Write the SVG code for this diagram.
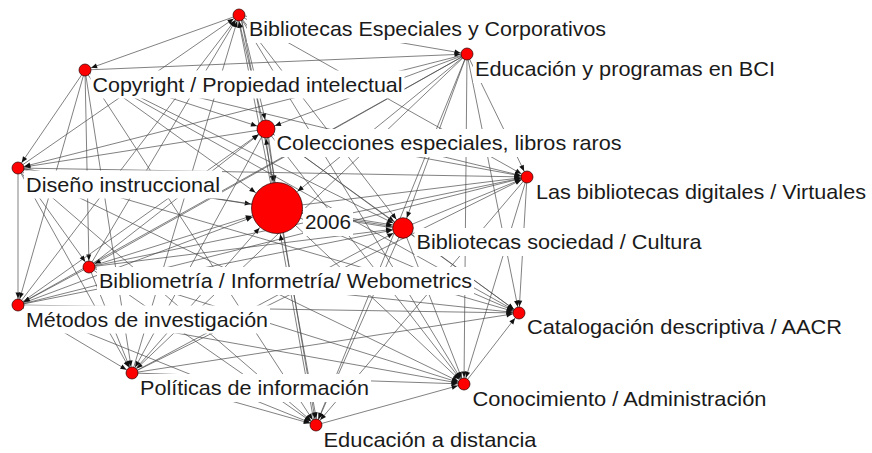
<svg xmlns="http://www.w3.org/2000/svg" width="872" height="453" viewBox="0 0 872 453">
<style>
.bg{fill:#fff}
#edges line{stroke:#4a4a4a;stroke-width:0.7;fill:none}
.lb{fill:#fff}
.tx{font-family:"Liberation Sans",Arial,Helvetica,sans-serif;font-size:21px;fill:#1a1a1a}
.nd{fill:#ff0000;stroke:#2a0000;stroke-width:0.7}
</style>
<defs>
<marker id="a6" markerUnits="userSpaceOnUse" markerWidth="6" markerHeight="5" refX="12.5" refY="2.5" orient="auto" overflow="visible"><path d="M0,0 L6,2.5 L0,5 z" fill="#111"/></marker>
<marker id="a9" markerUnits="userSpaceOnUse" markerWidth="6" markerHeight="5" refX="15.5" refY="2.5" orient="auto" overflow="visible"><path d="M0,0 L6,2.5 L0,5 z" fill="#111"/></marker>
<marker id="a10" markerUnits="userSpaceOnUse" markerWidth="6" markerHeight="5" refX="17" refY="2.5" orient="auto" overflow="visible"><path d="M0,0 L6,2.5 L0,5 z" fill="#111"/></marker>
<marker id="a25" markerUnits="userSpaceOnUse" markerWidth="6" markerHeight="5" refX="32.5" refY="2.5" orient="auto" overflow="visible"><path d="M0,0 L6,2.5 L0,5 z" fill="#111"/></marker>
</defs>
<rect class="bg" x="0" y="0" width="872" height="453"/>
<g id="edges">
<line x1="239" y1="15" x2="85" y2="70" marker-end="url(#a6)"/>
<line x1="239" y1="15" x2="467" y2="54" marker-end="url(#a6)"/>
<line x1="239" y1="15" x2="266" y2="129" transform="translate(1.3,-0.3)" marker-end="url(#a9)"/>
<line x1="266" y1="129" x2="239" y2="15" transform="translate(-1.3,0.3)" marker-end="url(#a6)"/>
<line x1="239" y1="15" x2="277" y2="208" transform="translate(1.4,-0.3)" marker-end="url(#a25)"/>
<line x1="277" y1="208" x2="239" y2="15" transform="translate(-1.4,0.3)" marker-end="url(#a6)"/>
<line x1="18" y1="168" x2="239" y2="15" marker-end="url(#a6)"/>
<line x1="89" y1="267" x2="239" y2="15" marker-end="url(#a6)"/>
<line x1="18" y1="305" x2="239" y2="15" marker-end="url(#a6)"/>
<line x1="132" y1="373" x2="239" y2="15" marker-end="url(#a6)"/>
<line x1="239" y1="15" x2="403" y2="228" marker-end="url(#a10)"/>
<line x1="239" y1="15" x2="527" y2="177" marker-end="url(#a6)"/>
<line x1="239" y1="15" x2="464" y2="384" marker-end="url(#a6)"/>
<line x1="85" y1="70" x2="467" y2="54" marker-end="url(#a6)"/>
<line x1="85" y1="70" x2="266" y2="129" marker-end="url(#a9)"/>
<line x1="85" y1="70" x2="277" y2="208" marker-end="url(#a25)"/>
<line x1="85" y1="70" x2="18" y2="168" marker-end="url(#a6)"/>
<line x1="85" y1="70" x2="89" y2="267" marker-end="url(#a6)"/>
<line x1="85" y1="70" x2="18" y2="305" marker-end="url(#a6)"/>
<line x1="85" y1="70" x2="132" y2="373" marker-end="url(#a6)"/>
<line x1="85" y1="70" x2="403" y2="228" marker-end="url(#a10)"/>
<line x1="85" y1="70" x2="527" y2="177" marker-end="url(#a6)"/>
<line x1="85" y1="70" x2="519" y2="313" marker-end="url(#a6)"/>
<line x1="85" y1="70" x2="316" y2="425" marker-end="url(#a6)"/>
<line x1="467" y1="54" x2="266" y2="129" marker-end="url(#a9)"/>
<line x1="467" y1="54" x2="18" y2="168" marker-end="url(#a6)"/>
<line x1="467" y1="54" x2="277" y2="208" marker-end="url(#a25)"/>
<line x1="467" y1="54" x2="403" y2="228" marker-end="url(#a10)"/>
<line x1="467" y1="54" x2="527" y2="177" marker-end="url(#a6)"/>
<line x1="467" y1="54" x2="519" y2="313" marker-end="url(#a6)"/>
<line x1="467" y1="54" x2="464" y2="384" marker-end="url(#a6)"/>
<line x1="467" y1="54" x2="89" y2="267" marker-end="url(#a6)"/>
<line x1="467" y1="54" x2="18" y2="305" marker-end="url(#a6)"/>
<line x1="467" y1="54" x2="132" y2="373" marker-end="url(#a6)"/>
<line x1="467" y1="54" x2="316" y2="425" marker-end="url(#a6)"/>
<line x1="266" y1="129" x2="18" y2="168" marker-end="url(#a6)"/>
<line x1="266" y1="129" x2="277" y2="208" transform="translate(1.4,-0.2)" marker-end="url(#a25)"/>
<line x1="277" y1="208" x2="266" y2="129" transform="translate(-1.4,0.2)" marker-end="url(#a9)"/>
<line x1="266" y1="129" x2="403" y2="228" marker-end="url(#a10)"/>
<line x1="266" y1="129" x2="527" y2="177" marker-end="url(#a6)"/>
<line x1="266" y1="129" x2="519" y2="313" marker-end="url(#a6)"/>
<line x1="266" y1="129" x2="464" y2="384" marker-end="url(#a6)"/>
<line x1="89" y1="267" x2="266" y2="129" marker-end="url(#a9)"/>
<line x1="18" y1="305" x2="266" y2="129" marker-end="url(#a9)"/>
<line x1="266" y1="129" x2="132" y2="373" marker-end="url(#a6)"/>
<line x1="266" y1="129" x2="316" y2="425" marker-end="url(#a6)"/>
<line x1="18" y1="168" x2="527" y2="177" marker-end="url(#a6)"/>
<line x1="277" y1="208" x2="527" y2="177" marker-end="url(#a6)"/>
<line x1="403" y1="228" x2="527" y2="177" marker-end="url(#a6)"/>
<line x1="89" y1="267" x2="527" y2="177" marker-end="url(#a6)"/>
<line x1="18" y1="305" x2="527" y2="177" marker-end="url(#a6)"/>
<line x1="132" y1="373" x2="527" y2="177" marker-end="url(#a6)"/>
<line x1="527" y1="177" x2="519" y2="313" marker-end="url(#a6)"/>
<line x1="527" y1="177" x2="464" y2="384" marker-end="url(#a6)"/>
<line x1="527" y1="177" x2="316" y2="425" marker-end="url(#a6)"/>
<line x1="18" y1="168" x2="277" y2="208" marker-end="url(#a25)"/>
<line x1="18" y1="168" x2="18" y2="305" marker-end="url(#a6)"/>
<line x1="18" y1="168" x2="89" y2="267" marker-end="url(#a6)"/>
<line x1="18" y1="168" x2="132" y2="373" marker-end="url(#a6)"/>
<line x1="18" y1="168" x2="403" y2="228" marker-end="url(#a10)"/>
<line x1="18" y1="168" x2="519" y2="313" marker-end="url(#a6)"/>
<line x1="18" y1="168" x2="464" y2="384" marker-end="url(#a6)"/>
<line x1="18" y1="168" x2="316" y2="425" marker-end="url(#a6)"/>
<line x1="277" y1="208" x2="403" y2="228" transform="translate(0.2,-1.4)" marker-end="url(#a10)"/>
<line x1="403" y1="228" x2="277" y2="208" transform="translate(-0.2,1.4)" marker-end="url(#a25)"/>
<line x1="277" y1="208" x2="316" y2="425" transform="translate(1.4,-0.25)" marker-end="url(#a6)"/>
<line x1="316" y1="425" x2="277" y2="208" transform="translate(-1.4,0.25)" marker-end="url(#a25)"/>
<line x1="89" y1="267" x2="277" y2="208" marker-end="url(#a25)"/>
<line x1="18" y1="305" x2="277" y2="208" marker-end="url(#a25)"/>
<line x1="277" y1="208" x2="519" y2="313" marker-end="url(#a6)"/>
<line x1="277" y1="208" x2="464" y2="384" marker-end="url(#a6)"/>
<line x1="132" y1="373" x2="277" y2="208" marker-end="url(#a25)"/>
<line x1="89" y1="267" x2="403" y2="228" marker-end="url(#a10)"/>
<line x1="18" y1="305" x2="403" y2="228" marker-end="url(#a10)"/>
<line x1="132" y1="373" x2="403" y2="228" marker-end="url(#a10)"/>
<line x1="403" y1="228" x2="519" y2="313" marker-end="url(#a6)"/>
<line x1="403" y1="228" x2="464" y2="384" marker-end="url(#a6)"/>
<line x1="403" y1="228" x2="316" y2="425" marker-end="url(#a6)"/>
<line x1="89" y1="267" x2="18" y2="305" marker-end="url(#a6)"/>
<line x1="89" y1="267" x2="132" y2="373" marker-end="url(#a6)"/>
<line x1="89" y1="267" x2="519" y2="313" marker-end="url(#a6)"/>
<line x1="89" y1="267" x2="464" y2="384" marker-end="url(#a6)"/>
<line x1="89" y1="267" x2="316" y2="425" marker-end="url(#a6)"/>
<line x1="18" y1="305" x2="132" y2="373" marker-end="url(#a6)"/>
<line x1="18" y1="305" x2="519" y2="313" marker-end="url(#a6)"/>
<line x1="18" y1="305" x2="464" y2="384" marker-end="url(#a6)"/>
<line x1="18" y1="305" x2="316" y2="425" marker-end="url(#a6)"/>
<line x1="464" y1="384" x2="519" y2="313" marker-end="url(#a6)"/>
<line x1="132" y1="373" x2="519" y2="313" marker-end="url(#a6)"/>
<line x1="132" y1="373" x2="316" y2="425" marker-end="url(#a6)"/>
<line x1="132" y1="373" x2="464" y2="384" marker-end="url(#a6)"/>
<line x1="316" y1="425" x2="464" y2="384" marker-end="url(#a6)"/>
</g>
<g id="n-be"><rect class="lb" x="247" y="15" width="361" height="28"/><text class="tx" x="249" y="36" textLength="357" lengthAdjust="spacingAndGlyphs">Bibliotecas Especiales y Corporativos</text><circle class="nd" cx="239" cy="15" r="6"/></g>
<g id="n-eb"><rect class="lb" x="473" y="55" width="304" height="28"/><text class="tx" x="475" y="76" textLength="300" lengthAdjust="spacingAndGlyphs">Educación y programas en BCI</text><circle class="nd" cx="467" cy="54" r="6"/></g>
<g id="n-cp"><rect class="lb" x="90.5" y="70.5" width="314" height="28"/><text class="tx" x="92.5" y="91.5" textLength="310" lengthAdjust="spacingAndGlyphs">Copyright / Propiedad intelectual</text><circle class="nd" cx="85" cy="70" r="6"/></g>
<g id="n-ce"><rect class="lb" x="274.5" y="129" width="349" height="28"/><text class="tx" x="276.5" y="150" textLength="345" lengthAdjust="spacingAndGlyphs">Colecciones especiales, libros raros</text><circle class="nd" cx="266" cy="129" r="9"/></g>
<g id="n-bd"><rect class="lb" x="534" y="178" width="334" height="28"/><text class="tx" x="536" y="199" textLength="330" lengthAdjust="spacingAndGlyphs">Las bibliotecas digitales / Virtuales</text><circle class="nd" cx="527" cy="177" r="6"/></g>
<g id="n-di"><rect class="lb" x="24" y="170.5" width="198" height="28"/><text class="tx" x="26" y="191.5" textLength="194" lengthAdjust="spacingAndGlyphs">Diseño instruccional</text><circle class="nd" cx="18" cy="168" r="6"/></g>
<g id="n-bs"><rect class="lb" x="414.5" y="228" width="289" height="28"/><text class="tx" x="416.5" y="249" textLength="285" lengthAdjust="spacingAndGlyphs">Bibliotecas sociedad / Cultura</text><circle class="nd" cx="403" cy="228" r="10.3"/></g>
<g id="n-bm"><rect class="lb" x="97" y="267" width="377" height="28"/><text class="tx" x="99" y="288" textLength="373" lengthAdjust="spacingAndGlyphs">Bibliometría / Informetría/ Webometrics</text><circle class="nd" cx="89" cy="267" r="6"/></g>
<g id="n-mi"><rect class="lb" x="24" y="305.5" width="246" height="28"/><text class="tx" x="26" y="326.5" textLength="242" lengthAdjust="spacingAndGlyphs">Métodos de investigación</text><circle class="nd" cx="18" cy="305" r="6"/></g>
<g id="n-ca"><rect class="lb" x="525" y="313" width="319" height="28"/><text class="tx" x="527" y="334" textLength="315" lengthAdjust="spacingAndGlyphs">Catalogación descriptiva / AACR</text><circle class="nd" cx="519" cy="313" r="6"/></g>
<g id="n-pi"><rect class="lb" x="138" y="374" width="233" height="28"/><text class="tx" x="140" y="395" textLength="229" lengthAdjust="spacingAndGlyphs">Políticas de información</text><circle class="nd" cx="132" cy="373" r="6"/></g>
<g id="n-co"><rect class="lb" x="470.5" y="384.5" width="298" height="28"/><text class="tx" x="472.5" y="405.5" textLength="294" lengthAdjust="spacingAndGlyphs">Conocimiento / Administración</text><circle class="nd" cx="464" cy="384" r="6"/></g>
<g id="n-ed"><rect class="lb" x="321.5" y="425.5" width="217" height="28"/><text class="tx" x="323.5" y="446.5" textLength="213" lengthAdjust="spacingAndGlyphs">Educación a distancia</text><circle class="nd" cx="316" cy="425" r="6"/></g>
<g id="n-2006"><rect class="lb" x="303" y="208" width="50" height="28"/><text class="tx" x="305" y="229" textLength="46" lengthAdjust="spacingAndGlyphs">2006</text><circle class="nd" cx="277" cy="208" r="25.5"/></g>
</svg>
